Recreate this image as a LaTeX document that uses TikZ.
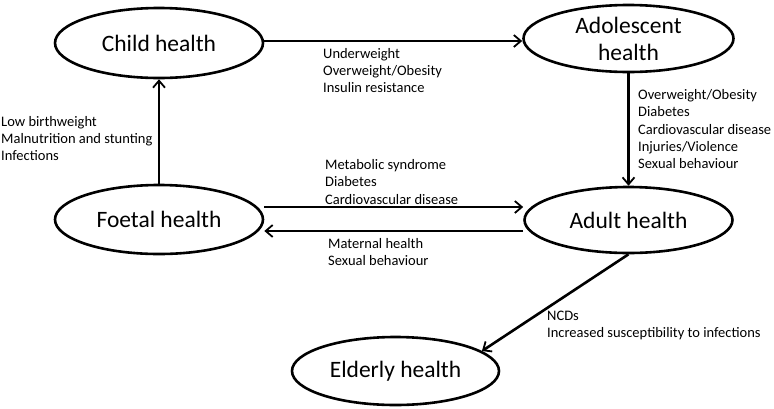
\documentclass[tikz,border=0pt]{standalone}
\usepackage{fontspec}
\setmainfont{Carlito}
\usetikzlibrary{arrows.meta,shapes.geometric}
\begin{document}
\begin{tikzpicture}[x=1pt,y=-1pt,
  stage/.style={draw, line width=2.6pt, ellipse, inner sep=0pt, align=center, font=\fontsize{23.5}{27}\selectfont},
  link/.style={line width=2.6pt, -{Straight Barb[length=7pt,width=12pt,line width=1.8pt]}},
  lbl/.style={anchor=north west, align=left, inner sep=0pt, font=\fontsize{14.5}{17.2}\selectfont}]
\useasboundingbox (0,0) rectangle (774,408);
\node[stage, minimum width=208pt, minimum height=70pt] (child) at (159,43) {Child health};
\node[stage, minimum width=210pt, minimum height=67pt] (adol) at (628.5,38.5) {Adolescent\\health};
\node[stage, minimum width=208pt, minimum height=69pt] (foetal) at (159,219.5) {Foetal health};
\node[stage, minimum width=208pt, minimum height=66pt] (adult) at (628.5,220) {Adult health};
\node[stage, minimum width=207pt, minimum height=68pt] (elder) at (395.5,371) {Elderly health};

\draw[link] (child.east |- 0,41) -- (adol.west |- 0,41);
\draw[link] (foetal.north) -- (child.south);
\draw[link] (adol.south) -- (adult.north);
\draw[link] (foetal.east |- 0,207) -- (adult.west |- 0,207);
\draw[link] (adult.west |- 0,231) -- (foetal.east |- 0,231);
\draw[link] (adult.south) -- (elder.13);

\node[lbl] (l1) at (323,48) {Underweight\\Overweight/Obesity\\Insulin resistance};
\node[lbl] (l2) at (1,116) {Low birthweight\\Malnutrition and stunting\\Infections};
\node[lbl] (l3) at (638,89.5) {Overweight/Obesity\\Diabetes\\Cardiovascular disease\\Injuries/Violence\\Sexual behaviour};
\node[lbl] (l4) at (325,159.5) {Metabolic syndrome\\Diabetes\\Cardiovascular disease};
\node[lbl] (l5) at (328,238.5) {Maternal health\\Sexual behaviour};
\node[lbl] (l6) at (547,310.5) {NCDs\\Increased susceptibility to infections};
\end{tikzpicture}
\end{document}
